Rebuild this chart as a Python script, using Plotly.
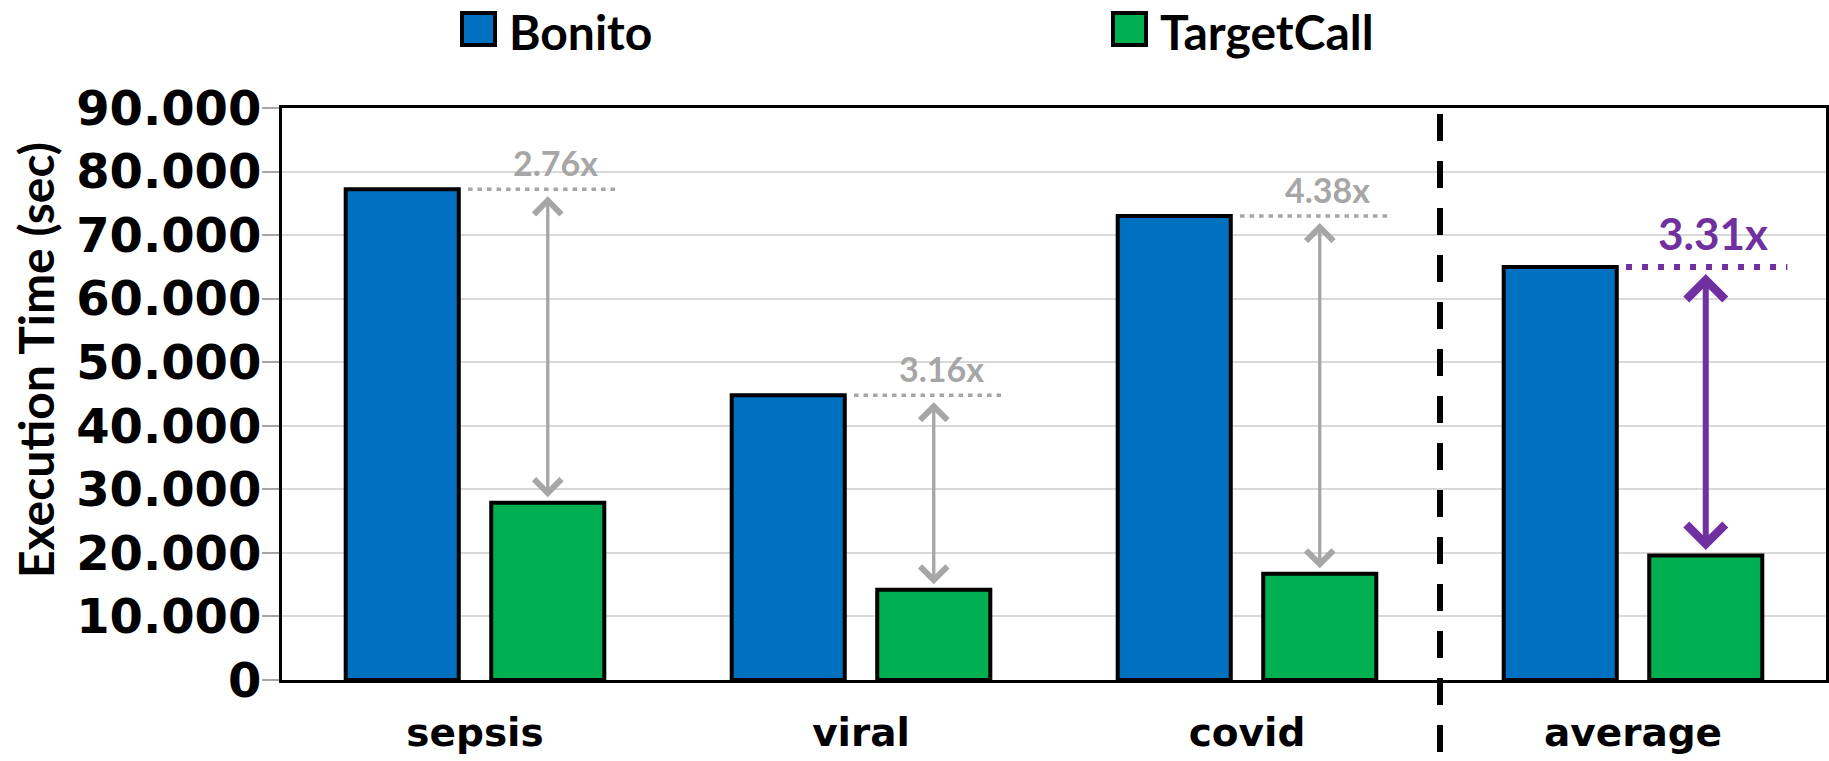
import plotly.graph_objects as go

# ---------------- data ----------------
categories = ["sepsis", "viral", "covid", "average"]
bonito = [77.2, 44.8, 73.0, 65.0]
targetcall = [27.9, 14.2, 16.7, 19.6]
speedup_labels = ["2.76x", "3.16x", "4.38x", "3.31x"]
series_names = ["Bonito", "TargetCall"]
y_tickvals = [0, 10, 20, 30, 40, 50, 60, 70, 80, 90]
y_ticktext = ["0", "10.000", "20.000", "30.000", "40.000", "50.000",
              "60.000", "70.000", "80.000", "90.000"]
y_title = "Execution Time (sec)"

# ---------------- styling ----------------
W, H = 1829, 761
L, R, T, B = 282, 3, 108, 81
PW, PH = W - L - R, H - T - B
FONT = "Lato"
WIDE = "DejaVu Sans"
BLUE, GREEN = "#0070C0", "#00B050"
GRAY, PURPLE = "#A6A6A6", "#7030A0"
BARGAP, BARGROUPGAP = 0.246, 0.223
slot = (1 - BARGAP) / 2
barw = slot * (1 - BARGROUPGAP)


def px_x(px):
    return (px - L) / PW


def px_y(py):
    return (H - B - py) / PH


fig = go.Figure()
fig.add_trace(go.Bar(x=categories, y=bonito, name=series_names[0],
                     marker=dict(color=BLUE, line=dict(color="black", width=4))))
fig.add_trace(go.Bar(x=categories, y=targetcall, name=series_names[1],
                     marker=dict(color=GREEN, line=dict(color="black", width=4))))

shapes = []
annotations = []
last = len(categories) - 1
for i in range(len(categories)):
    is_avg = i == last
    col = PURPLE if is_avg else GRAY
    gx = i + slot / 2
    # dotted reference line at Bonito level
    shapes.append(dict(type="line", xref="x", yref="y",
                       x0=i - 0.018, x1=gx + barw / 2 + (0.065 if is_avg else 0.035),
                       y0=bonito[i], y1=bonito[i],
                       line=dict(color=col, width=6 if is_avg else 3.5,
                                 dash="6px,10px" if is_avg else "4.5px,5px")))
    # double-headed arrow
    annotations.append(dict(x=gx, y=bonito[i], ax=gx, ay=targetcall[i],
                            xref="x", yref="y", axref="x", ayref="y",
                            text="", showarrow=True, arrowside="end+start",
                            arrowhead=4, startarrowhead=4,
                            arrowsize=1.25 if is_avg else 1.6,
                            startarrowsize=1.25 if is_avg else 1.6,
                            arrowwidth=6 if is_avg else 3.3,
                            arrowcolor=col,
                            standoff=7, startstandoff=4))
    # speedup label
    annotations.append(dict(x=gx + 0.02, y=bonito[i], xref="x", yref="y",
                            text=speedup_labels[i], showarrow=False,
                            yanchor="bottom", yshift=6 if is_avg else 4,
                            font=dict(family=FONT, size=44 if is_avg else 34,
                                      color=col, weight="bold")))

# separator before the average group
shapes.append(dict(type="line", xref="x", yref="paper",
                   x0=last - 0.5, x1=last - 0.5, y0=px_y(114), y1=px_y(752),
                   line=dict(color="black", width=6, dash="27px,20px")))

# manual legend
legend_items = [(series_names[0], BLUE, 462), (series_names[1], GREEN, 1113)]
for name, colr, x0 in legend_items:
    shapes.append(dict(type="rect", xref="paper", yref="paper",
                       x0=px_x(x0), x1=px_x(x0 + 33), y0=px_y(45), y1=px_y(13),
                       fillcolor=colr, line=dict(color="black", width=4)))
    annotations.append(dict(xref="paper", yref="paper", x=px_x(x0 + 45), y=px_y(31),
                            xanchor="left", yanchor="middle", text=name,
                            showarrow=False,
                            font=dict(family=FONT, size=48, color="black", weight="bold")))

# y-axis title
annotations.append(dict(xref="paper", yref="paper", x=px_x(35), y=px_y(360),
                        xanchor="center", yanchor="middle", text=y_title,
                        textangle=-90, showarrow=False,
                        font=dict(family=FONT, size=48, color="black", weight="bold")))

fig.update_layout(
    width=W, height=H,
    margin=dict(l=L, r=R, t=T, b=B, pad=0, autoexpand=False),
    paper_bgcolor="white", plot_bgcolor="white",
    barmode="group", bargap=BARGAP, bargroupgap=BARGROUPGAP,
    showlegend=False,
    shapes=shapes, annotations=annotations,
    font=dict(family=FONT, color="black"),
)
fig.update_xaxes(
    type="category", range=[-0.5, len(categories) - 0.5],
    showline=True, linecolor="black", linewidth=3, mirror=True,
    ticks="", showgrid=False, ticklabelstandoff=16, automargin=False,
    tickfont=dict(family=WIDE, size=39, color="black", weight="bold"),
)
fig.update_yaxes(
    range=[0, 90], tickvals=y_tickvals, ticktext=y_ticktext,
    showline=True, linecolor="black", linewidth=3, mirror=True,
    ticks="outside", ticklen=8, tickwidth=2, tickcolor=GRAY,
    minor=dict(tickmode="array", tickvals=y_tickvals, ticks="outside",
               ticklen=17, tickwidth=2, tickcolor=GRAY, showgrid=False),
    showgrid=True, gridcolor="#D9D9D9", gridwidth=2,
    zeroline=False, ticklabelstandoff=0, automargin=False,
    tickfont=dict(family=WIDE, size=48, color="black", weight="bold"),
)

fig.write_html("out.html")
